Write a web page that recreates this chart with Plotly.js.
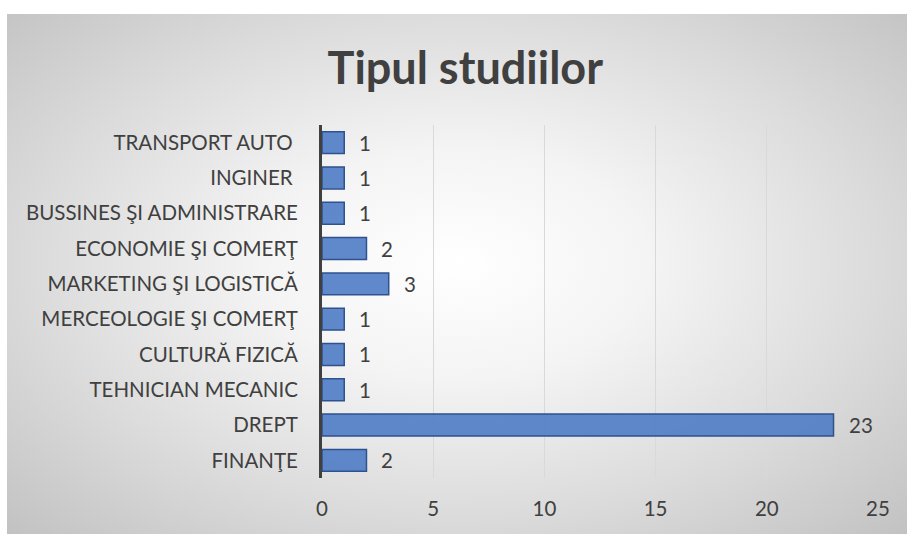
<!DOCTYPE html>
<html>
<head>
<meta charset="utf-8">
<script src="https://cdn.plot.ly/plotly-3.0.1.min.js"></script>
<style>
  html, body { margin:0; padding:0; background:#ffffff; }
  #bg { position:absolute; left:7px; top:14px; width:900px; height:520px;
        background: radial-gradient(ellipse farthest-corner at 50% 48%, #ffffff 0%, #f4f4f4 30%, #dcdcdc 65%, #c2c2c2 100%); }
  #chart { position:absolute; left:0; top:0; width:907px; height:534px; }
</style>
</head>
<body>
<div id="bg"></div>
<div id="chart"></div>
<script>
const categories = [
  "FINANŢE",
  "DREPT",
  "TEHNICIAN MECANIC",
  "CULTURĂ FIZICĂ",
  "MERCEOLOGIE ŞI COMERŢ",
  "MARKETING ŞI LOGISTICĂ",
  "ECONOMIE ŞI COMERŢ",
  "BUSSINES ŞI ADMINISTRARE",
  "INGINER ",
  "TRANSPORT AUTO "
];
const values = [2, 23, 1, 1, 1, 3, 2, 1, 1, 1];
const xTicks = [0, 5, 10, 15, 20, 25];
const chartTitle = "Tipul studiilor";

const FONT = "Lato, 'Open Sans', sans-serif";
const TXT = "#404040";

const trace = {
  type: "bar",
  orientation: "h",
  x: values,
  y: categories,
  marker: { color: "rgba(79,124,198,0.9)", line: { color: "#2f528f", width: 1.5 } },
  hoverinfo: "none"
};

const annotations = values.map((v, i) => ({
  x: v, y: categories[i], xref: "x", yref: "y",
  text: String(v), showarrow: false, xanchor: "left", yanchor: "middle",
  xshift: 13, font: { family: FONT, size: 20.5, color: TXT }
}));

const layout = {
  width: 907, height: 534,
  paper_bgcolor: "rgba(0,0,0,0)",
  plot_bgcolor: "rgba(0,0,0,0)",
  margin: { l: 322, r: 29, t: 125, b: 56 },
  showlegend: false,
  bargap: 0.38,
  title: {
    text: "<b>" + chartTitle + "</b>",
    x: 0.513, xanchor: "center", y: 0.873, yanchor: "middle",
    font: { family: FONT, size: 45, color: TXT }
  },
  xaxis: {
    range: [0, 25], tickvals: xTicks, ticktext: xTicks.map(String),
    showgrid: true, gridcolor: "#d9d9d9", gridwidth: 1,
    zeroline: false, showline: false, ticks: "",
    ticklabelstandoff: 16,
    tickfont: { family: FONT, size: 20.5, color: TXT },
    fixedrange: true
  },
  yaxis: {
    type: "category", categoryorder: "array", categoryarray: categories,
    showline: true, linecolor: "#404040", linewidth: 3,
    showgrid: false, zeroline: false, ticks: "",
    ticklabelstandoff: 17,
    tickfont: { family: FONT, size: 20.5, color: TXT },
    fixedrange: true
  },
  annotations: annotations
};

Plotly.newPlot("chart", [trace], layout, { displayModeBar: false, staticPlot: true });
</script>
</body>
</html>
